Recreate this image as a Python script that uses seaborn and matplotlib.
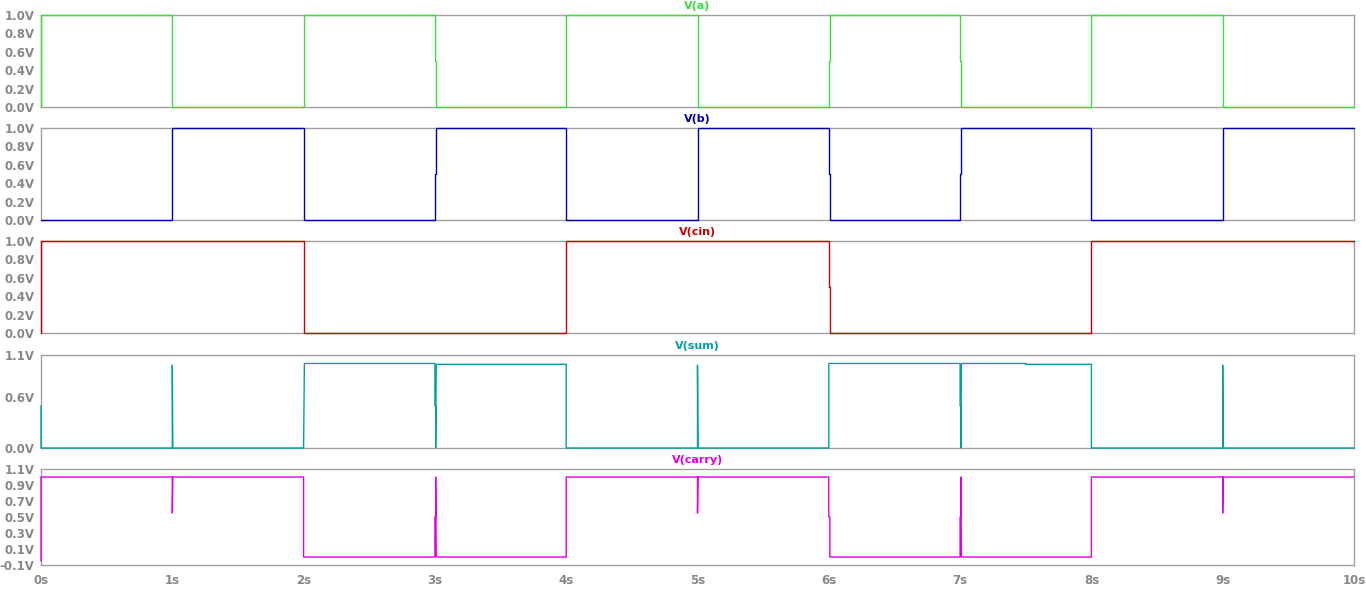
import numpy as np
import pandas as pd
import matplotlib
matplotlib.use("Agg")
import matplotlib.pyplot as plt
import seaborn as sns

# Transient waveforms (time in s, voltage in V)
a_t = [0, 0, 1, 1, 2, 2, 3, 3, 3.008, 3.008, 4, 4, 5, 5, 6, 6, 6.008, 6.008, 7, 7, 7.008, 7.008, 8, 8, 9, 9, 10]
a_v = [0, 1, 1, 0, 0, 1, 1, 0.5, 0.5, 0, 0, 1, 1, 0, 0, 0.5, 0.5, 1, 1, 0.5, 0.5, 0, 0, 1, 1, 0, 0]

b_t = [0, 1, 1, 2, 2, 3, 3, 3.008, 3.008, 4, 4, 5, 5, 6, 6, 6.008, 6.008, 7, 7, 7.008, 7.008, 8, 8, 9, 9, 10]
b_v = [0, 0, 1, 1, 0, 0, 0.5, 0.5, 1, 1, 0, 0, 1, 1, 0.5, 0.5, 0, 0, 0.5, 0.5, 1, 1, 0, 0, 1, 1]

cin_t = [0, 0, 2, 2, 4, 4, 6, 6, 6.008, 6.008, 8, 8, 10]
cin_v = [0, 1, 1, 0, 0, 1, 1, 0.5, 0.5, 0, 0, 1, 1]

sum_t = [0, 0, 1, 1, 1.004, 2, 2.006, 3, 3, 3.006, 3.006, 3.01, 4, 4, 5, 5, 5.004, 6, 6,
         7, 7, 7.006, 7.006, 7.01, 7.5, 7.5, 8, 8, 9, 9, 9.004, 10]
sum_v = [0.5, 0, 0, 0.98, 0, 0, 1.0, 1.0, 0.5, 0.5, 0, 0.99, 0.99, 0, 0, 0.98, 0, 0, 1.0,
         1.0, 0.5, 0.5, 0, 1.0, 1.0, 0.99, 0.99, 0, 0, 0.98, 0, 0]

carry_t = [0, 0, 1, 1, 1.004, 2, 2, 3, 3, 3.006, 3.006, 3.01, 4, 4, 5, 5, 5.004, 6, 6, 6.008, 6.008,
           7, 7, 7.006, 7.006, 7.01, 8, 8, 9, 9, 9.004, 10]
carry_v = [-0.05, 1.0, 1.0, 0.55, 1.0, 1.0, 0, 0, 0.5, 0.5, 1.0, 0, 0, 1.0, 1.0, 0.55, 1.0, 1.0, 0.5, 0.5, 0,
           0, 0.5, 0.5, 1.0, 0, 0, 1.0, 1.0, 0.55, 1.0, 1.0]

names = ["V(a)", "V(b)", "V(cin)", "V(sum)", "V(carry)"]
colors = ["#3ddc3d", "#0000a8", "#c80000", "#00a0a0", "#e000e0"]
series = [(a_t, a_v), (b_t, b_v), (cin_t, cin_v), (sum_t, sum_v), (carry_t, carry_v)]

ylims = [(0, 1), (0, 1), (0, 1), (0, 1.1), (-0.1, 1.1)]
yticks = [[0, 0.2, 0.4, 0.6, 0.8, 1.0]] * 3 + [[0, 0.6, 1.1], [-0.1, 0.1, 0.3, 0.5, 0.7, 0.9, 1.1]]
xticks = list(range(11))
xlabels = [f"{t}s" for t in xticks]

# panel extents in pixels (top, bottom) of the 1366x593 image
W, H = 1366, 593
rows = [(15, 107), (128, 220), (241, 333), (355, 448), (469, 565)]
x0, x1 = 41, 1354

sns.set_style("white")
plt.rcParams['font.family'] = ['DejaVu Sans']
grey = "#888888"

fig = plt.figure(figsize=(W / 100, H / 100), dpi=100)

for i, ((t, v), name, col) in enumerate(zip(series, names, colors)):
    top, bot = rows[i]
    ax = fig.add_axes([x0 / W, 1 - bot / H, (x1 - x0) / W, (bot - top) / H])
    df = pd.DataFrame({"t": t, "v": v})
    sns.lineplot(data=df, x="t", y="v", ax=ax, sort=False, estimator=None,
                 color=col, linewidth=1.0, zorder=5, clip_on=False)
    ax.set_xlim(0, 10)
    ax.set_ylim(*ylims[i])
    ax.set_yticks(yticks[i])
    ax.set_yticklabels([f"{y:.1f}V" for y in yticks[i]], color=grey,
                       fontsize=8.5, fontweight="bold")
    ax.tick_params(axis="y", direction="out", length=4, width=1, color=grey, pad=0.5)
    ax.set_xticks(xticks)
    if i == len(series) - 1:
        ax.set_xticklabels(xlabels, color=grey, fontsize=8.5, fontweight="bold")
        ax.tick_params(axis="x", direction="out", length=5, width=1, color=grey, pad=1.5)
    else:
        ax.set_xticklabels([])
        ax.tick_params(axis="x", length=0)
    ax.set_xlabel("")
    ax.set_ylabel("")
    for s in ax.spines.values():
        s.set_color("#a0a0a0")
        s.set_linewidth(1.0)
    ax.set_title(name, color=col, fontsize=8, fontweight="bold", y=1.0, pad=4.5)

fig.savefig("out.png", dpi=100, facecolor="white")
